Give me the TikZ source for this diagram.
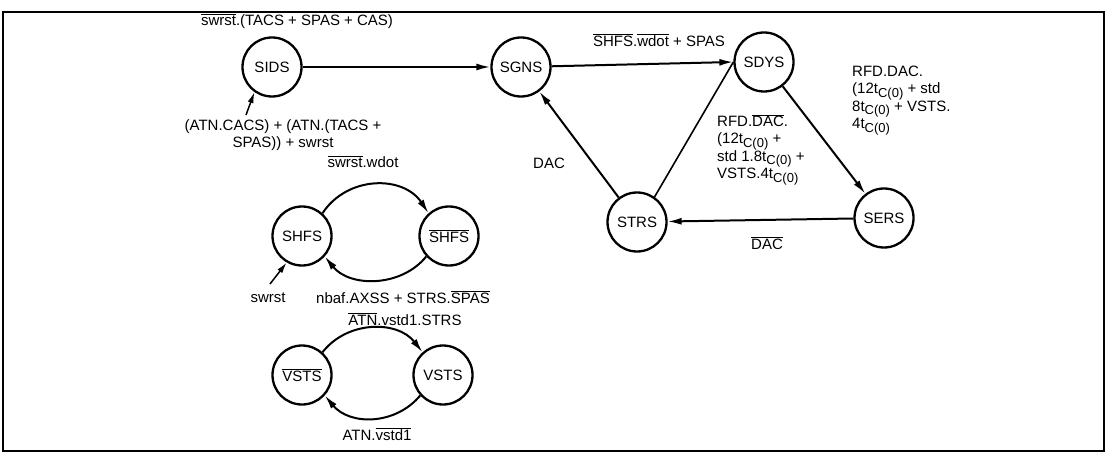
\documentclass[tikz,border=0pt]{standalone}
\usepackage{fontspec}
\setmainfont{Liberation Sans}
\usetikzlibrary{arrows.meta}
\newcommand{\ol}[1]{$\overline{\hbox{#1}}$}
\newcommand{\tc}{t\raisebox{-0.45ex}{\fontsize{13}{13}\selectfont C(0)}}
\begin{document}
\begin{tikzpicture}[x=1pt,y=-1pt,
  font=\fontsize{15}{17.3}\selectfont,
  st/.style={circle,draw,line width=2.3pt,minimum size=59pt,inner sep=0pt},
  arr/.style={line width=2pt,-{Latex[length=14pt,width=7pt]}},
  thinarr/.style={line width=1.5pt,-{Latex[length=11pt,width=6pt]}},
  ln/.style={line width=1.6pt},
  lbl/.style={inner sep=0pt,align=left}]
\useasboundingbox (0,0) rectangle (1107,454);
\draw[line width=2pt] (3,12) rectangle (1104,451);

% states
\node[st] (sids) at (272,67) {SIDS};
\node[st] (sgns) at (521,67) {SGNS};
\node[st] (sdys) at (764,62) {SDYS};
\node[st] (sers) at (884,218) {SERS};
\node[st] (strs) at (637,222) {STRS};
\node[st] (shfs) at (302,236) {SHFS};
\node[st] (shfsb) at (449,236) {\ol{SHFS}};
\node[st] (vstsb) at (302,375) {\ol{VSTS}};
\node[st] (vsts) at (443,375) {VSTS};

% main connectors
\draw[arr] (sids) -- (sgns);
\draw[arr] (sgns) -- (sdys.west);
\draw[arr] (sdys) -- (sers);
\draw[arr] (sers) -- (strs);
\draw[arr] (strs) -- (sgns);
\draw[ln] (strs.55) -- (sdys.west);

\coordinate (sidsin) at (246,115);
\draw[thinarr] (sidsin) -- (sids.235);
\coordinate (shfsin) at (270,284);
\draw[thinarr] (shfsin) -- (shfs.240);

% loops
\draw[arr] (shfs.48) .. controls +(25,-38) and +(-25,-38) .. (shfsb.132);
\draw[arr] (shfsb.-138) .. controls +(-25,31) and +(25,31) .. (shfs.-42);
\draw[arr] (vstsb.48) .. controls +(25,-32) and +(-25,-32) .. (vsts.132);
\draw[arr] (vsts.-138) .. controls +(-25,30) and +(25,30) .. (vstsb.-42);

% labels
\node[lbl] (l1) at (297,21) {\ol{swrst}.(TACS + SPAS + CAS)};
\node[lbl] (l2) at (659,40) {\ol{SHFS}.\ol{wdot} + SPAS};
\node[lbl,anchor=north west] (l3) at (852,66) {RFD.DAC.\\(12\tc{} + std\\8\tc{} + VSTS.\\4\tc};
\node[lbl,anchor=north west] (l4) at (717,114) {RFD.\ol{DAC}.\\(12\tc{} +\\std 1.8\tc{} +\\VSTS.4\tc};
\node[lbl] (l5) at (549,163) {DAC};
\node[lbl] (l6) at (767,243) {\ol{DAC}};
\node[lbl,align=center] (l7) at (283,135) {(ATN.CACS) + (ATN.(TACS +\\SPAS)) + swrst};
\node[lbl] (l8) at (363,162) {\ol{swrst}.wdot};
\node[lbl] (l9) at (268,298) {swrst};
\node[lbl] (l10) at (403,297) {nbaf.AXSS + STRS.\ol{SPAS}};
\node[lbl] (l11) at (405,319) {\ol{ATN}.vstd1.STRS};
\node[lbl] (l12) at (377,434) {ATN.\ol{vstd1}};
\end{tikzpicture}
\end{document}
